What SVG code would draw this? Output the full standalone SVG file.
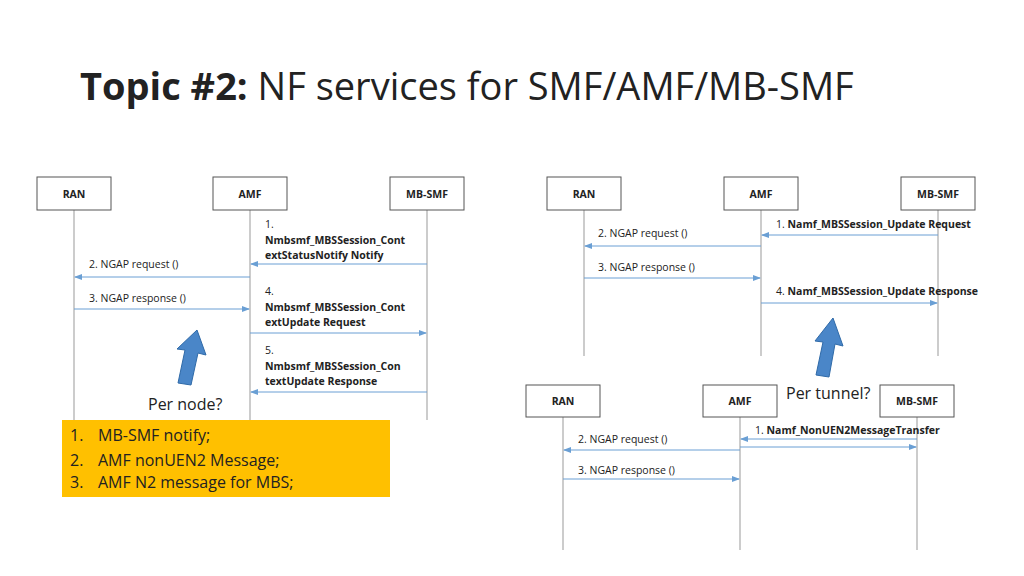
<svg xmlns="http://www.w3.org/2000/svg" width="1024" height="576" viewBox="0 0 1024 576">
<style>
.box{fill:#fff;stroke:#555;stroke-width:1}
.bl{font-family:"Open Sans","Liberation Sans",sans-serif;font-size:10.5px;font-weight:bold;text-anchor:middle;fill:#222}
.life{stroke:#999;stroke-width:1}
.msg{stroke:#6a9fd4;stroke-width:1;fill:none}
.t{font-family:"Open Sans","Liberation Sans",sans-serif;font-size:10.5px;fill:#222}
.b{font-weight:bold}
.big{font-family:"Open Sans","Liberation Sans",sans-serif;font-size:16px;fill:#222}
.fat{fill:#4a86c8;stroke:#2f6aa8;stroke-width:1}
</style>
<defs>
<marker id="ah" markerWidth="8" markerHeight="6" refX="7" refY="3" orient="auto" markerUnits="userSpaceOnUse"><path d="M0,0 L8,3 L0,6 z" fill="#6a9fd4"/></marker>
</defs>
<rect width="1024" height="576" fill="#fff"/>
<text x="80" y="100" font-family="'Open Sans','Liberation Sans',sans-serif" font-size="38" fill="#222"><tspan font-weight="bold">Topic #2:</tspan> NF services for SMF/AMF/MB-SMF</text>

<g id="lifelines">
<line class="life" x1="74" y1="210" x2="74" y2="420"/>
<line class="life" x1="250" y1="210" x2="250" y2="420"/>
<line class="life" x1="427" y1="210" x2="427" y2="420"/>
<line class="life" x1="584" y1="210" x2="584" y2="356"/>
<line class="life" x1="761" y1="210" x2="761" y2="356"/>
<line class="life" x1="938" y1="210" x2="938" y2="356"/>
<line class="life" x1="563" y1="417" x2="563" y2="550"/>
<line class="life" x1="740" y1="417" x2="740" y2="550"/>
<line class="life" x1="917" y1="417" x2="917" y2="550"/>
</g>

<g id="n-ran1"><rect class="box" x="37" y="177" width="74" height="33"/><text class="bl" x="74" y="198">RAN</text></g>
<g id="n-amf1"><rect class="box" x="213" y="177" width="74" height="33"/><text class="bl" x="250" y="198">AMF</text></g>
<g id="n-mbsmf1"><rect class="box" x="390" y="177" width="74" height="33"/><text class="bl" x="427" y="198">MB-SMF</text></g>
<g id="n-ran2"><rect class="box" x="547" y="177" width="74" height="33"/><text class="bl" x="584" y="198">RAN</text></g>
<g id="n-amf2"><rect class="box" x="724" y="177" width="74" height="33"/><text class="bl" x="761" y="198">AMF</text></g>
<g id="n-mbsmf2"><rect class="box" x="901" y="177" width="74" height="33"/><text class="bl" x="938" y="198">MB-SMF</text></g>
<g id="n-ran3"><rect class="box" x="526" y="385" width="74" height="32"/><text class="bl" x="563" y="405">RAN</text></g>
<g id="n-amf3"><rect class="box" x="703" y="385" width="74" height="32"/><text class="bl" x="740" y="405">AMF</text></g>
<g id="n-mbsmf3"><rect class="box" x="880" y="385" width="74" height="32"/><text class="bl" x="917" y="405">MB-SMF</text></g>

<g id="connectors">
<line class="msg" x1="427" y1="264" x2="251" y2="264" marker-end="url(#ah)"/>
<line class="msg" x1="250" y1="277" x2="75" y2="277" marker-end="url(#ah)"/>
<line class="msg" x1="74" y1="309" x2="249" y2="309" marker-end="url(#ah)"/>
<line class="msg" x1="250" y1="333" x2="426" y2="333" marker-end="url(#ah)"/>
<line class="msg" x1="427" y1="392" x2="251" y2="392" marker-end="url(#ah)"/>
<line class="msg" x1="938" y1="235" x2="762" y2="235" marker-end="url(#ah)"/>
<line class="msg" x1="761" y1="246" x2="585" y2="246" marker-end="url(#ah)"/>
<line class="msg" x1="584" y1="278" x2="760" y2="278" marker-end="url(#ah)"/>
<line class="msg" x1="761" y1="303" x2="937" y2="303" marker-end="url(#ah)"/>
<line class="msg" x1="917" y1="439" x2="741" y2="439" marker-end="url(#ah)"/>
<line class="msg" x1="740" y1="447" x2="916" y2="447" marker-end="url(#ah)"/>
<line class="msg" x1="740" y1="450" x2="564" y2="450" marker-end="url(#ah)"/>
<line class="msg" x1="563" y1="479" x2="739" y2="479" marker-end="url(#ah)"/>
</g>

<g id="labels">
<text class="t" x="265" y="228">1.</text>
<text class="t b" x="265" y="244">Nmbsmf_MBSSession_Cont</text>
<text class="t b" x="265" y="259">extStatusNotify Notify</text>
<text class="t" x="89" y="268">2. NGAP request ()</text>
<text class="t" x="89" y="302">3. NGAP response ()</text>
<text class="t" x="265" y="295">4.</text>
<text class="t b" x="265" y="311">Nmbsmf_MBSSession_Cont</text>
<text class="t b" x="265" y="326">extUpdate Request</text>
<text class="t" x="265" y="354">5.</text>
<text class="t b" x="265" y="370">Nmbsmf_MBSSession_Con</text>
<text class="t b" x="265" y="385">textUpdate Response</text>
<text class="t" x="776" y="228">1. <tspan class="b">Namf_MBSSession_Update Request</tspan></text>
<text class="t" x="598" y="237">2. NGAP request ()</text>
<text class="t" x="598" y="271">3. NGAP response ()</text>
<text class="t" x="776" y="295">4. <tspan class="b">Namf_MBSSession_Update Response</tspan></text>
<text class="t" x="755" y="434">1. <tspan class="b">Namf_NonUEN2MessageTransfer</tspan></text>
<text class="t" x="578" y="443">2. NGAP request ()</text>
<text class="t" x="578" y="474">3. NGAP response ()</text>
</g>

<path class="fat" d="M178,383 L185,350 L177,349 L197,330 L206,355 L198,353 L191,385 Z"/>
<text class="big" x="148" y="410">Per node?</text>
<path class="fat" d="M816,375 L823,342 L815,341 L833,318 L843,346 L835,344 L829,377 Z"/>
<text class="big" x="786" y="399">Per tunnel?</text>

<g id="note">
<rect x="62" y="420" width="328" height="77" fill="#FFC000"/>
<text class="big" x="70" y="441">1.</text><text class="big" x="98" y="441">MB-SMF notify;</text>
<text class="big" x="70" y="466">2.</text><text class="big" x="98" y="466">AMF nonUEN2 Message;</text>
<text class="big" x="70" y="488">3.</text><text class="big" x="98" y="488">AMF N2 message for MBS;</text>
</g>
</svg>
